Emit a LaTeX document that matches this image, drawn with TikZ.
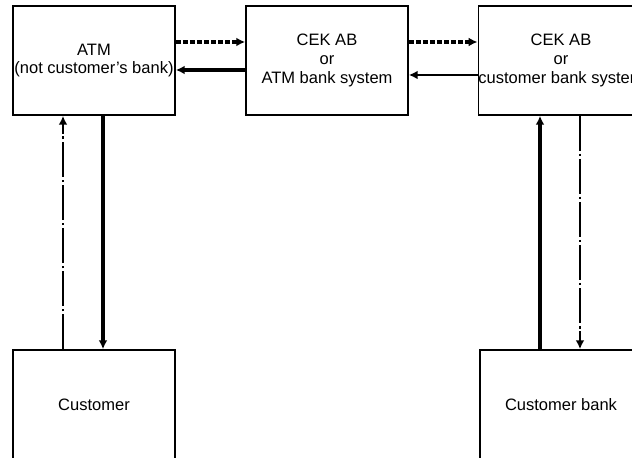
\documentclass[tikz,border=0pt]{standalone}
\usepackage{fontspec}
\setmainfont{Liberation Sans}
\usepackage{tikz}
\usetikzlibrary{arrows.meta}

\begin{document}
\begin{tikzpicture}[line cap=butt,line join=miter,x=1cm,y=1cm,
  box/.style={draw, line width=1pt, minimum width=3.24cm, minimum height=2.18cm, inner sep=0pt, align=center, font=\fontsize{9.4pt}{10.6pt}\selectfont},
  boldarrow/.style={line width=2pt, -{Latex[length=5pt, width=5pt]}},
  thinarrow/.style={line width=1pt, -{Latex[length=5pt, width=5pt]}},
  dotarrow/.style={line width=2pt, dash pattern=on 3pt off 1pt, -{Latex[length=5pt, width=5pt]}},
  dasharrow/.style={line width=1pt, dash pattern=on 20pt off 1.5pt on 1.5pt off 1.5pt, -{Latex[length=5pt, width=5pt]}}]
\clip (0,0) rectangle (12.64,9.16);
\fill[white] (0,0) rectangle (12.64,9.16);

\node[box] (atm) at (1.88,7.95) {ATM\\(not customer’s bank)};
\node[box] (cekatm) at (6.54,7.95) {CEK AB\\or\\ATM bank system};
\node[box] (cekcust) at (11.22,7.95) {CEK AB\\or\\customer bank system};
\node[box] (cust) at (1.88,1.07) {Customer};
\node[box] (custbank) at (11.22,1.07) {Customer bank};

% top row
\draw [dotarrow] ([yshift=0.37cm]atm.east) -- ([yshift=0.37cm]cekatm.west);
\draw [boldarrow] ([yshift=-0.19cm]cekatm.west) -- ([yshift=-0.19cm]atm.east);
\draw [dotarrow] ([yshift=0.37cm]cekatm.east) -- ([yshift=0.37cm]cekcust.west);
\draw [thinarrow] ([yshift=-0.29cm]cekcust.west) -- ([yshift=-0.29cm]cekatm.east);

% left column
\draw [dasharrow] ([xshift=-0.62cm]cust.north) -- ([xshift=-0.62cm]atm.south);
\draw [boldarrow] ([xshift=0.18cm]atm.south) -- ([xshift=0.18cm]cust.north);

% right column
\draw [boldarrow] ([xshift=-0.42cm]custbank.north) -- ([xshift=-0.42cm]cekcust.south);
\draw [dasharrow] ([xshift=0.38cm]cekcust.south) -- ([xshift=0.38cm]custbank.north);
\end{tikzpicture}
\end{document}
